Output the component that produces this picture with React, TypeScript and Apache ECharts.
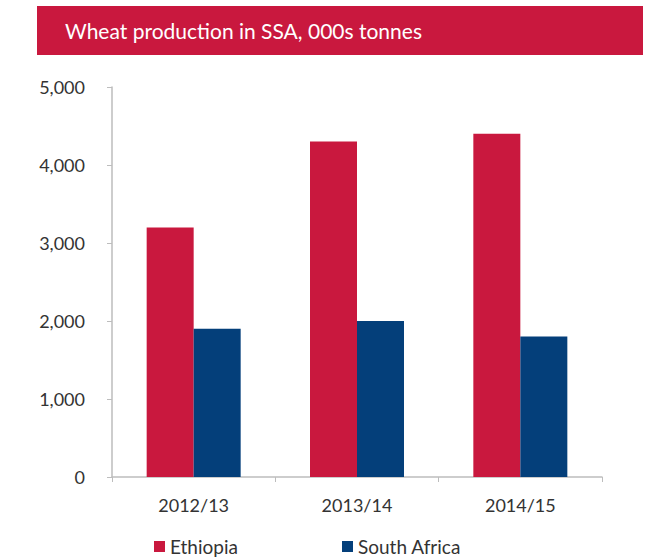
import React, { useEffect, useRef } from "react";
import * as echarts from "echarts";

const title = "Wheat production in SSA, 000s tonnes";
const categories = ["2012/13", "2013/14", "2014/15"];
const ethiopia = [3200, 4300, 4400];
const southAfrica = [1900, 2000, 1800];
const seriesNames = ["Ethiopia", "South Africa"];

const RED = "#C9183E";
const BLUE = "#043F7A";
const FONT = "Lato";

export default function App() {
  const ref = useRef<HTMLDivElement>(null);
  useEffect(() => {
    if (!ref.current) return;
    const chart = echarts.init(ref.current, null, { renderer: "svg" });
    const legendCommon = {
      top: 532,
      itemWidth: 11,
      itemHeight: 11,
      icon: "rect",
      textStyle: { fontSize: 19, color: "#333", fontFamily: FONT },
    };
    chart.setOption({
      animation: false,
      textStyle: { fontFamily: FONT },
      graphic: [
        {
          type: "rect",
          shape: { x: 37, y: 6, width: 606, height: 49 },
          style: { fill: RED },
        },
        {
          type: "text",
          x: 65,
          y: 30,
          style: {
            text: title,
            fill: "#ffffff",
            font: `21px ${FONT}`,
            textVerticalAlign: "middle",
          },
        },
      ],
      legend: [
        { ...legendCommon, left: 149, data: [seriesNames[0]] },
        { ...legendCommon, left: 337, data: [seriesNames[1]] },
      ],
      grid: { left: 112, right: 51, top: 87, bottom: 82 },
      xAxis: {
        type: "category",
        data: categories,
        axisLine: { lineStyle: { color: "#BDBDBD", width: 1.5 } },
        axisTick: { show: true, length: 5, lineStyle: { color: "#BDBDBD" } },
        axisLabel: { fontSize: 18, color: "#333", margin: 19, fontFamily: FONT },
      },
      yAxis: {
        type: "value",
        min: 0,
        max: 5000,
        interval: 1000,
        axisLine: { show: true, lineStyle: { color: "#BDBDBD", width: 1.5 } },
        axisTick: { show: true, length: 5, lineStyle: { color: "#BDBDBD" } },
        splitLine: { show: false },
        axisLabel: {
          fontSize: 18,
          color: "#333",
          margin: 27,
          fontFamily: FONT,
          formatter: (v: number) => v.toLocaleString("en-US"),
        },
      },
      series: [
        {
          name: seriesNames[0],
          type: "bar",
          data: ethiopia,
          barWidth: 47,
          barGap: "0%",
          itemStyle: { color: RED },
        },
        {
          name: seriesNames[1],
          type: "bar",
          data: southAfrica,
          barWidth: 47,
          barGap: "0%",
          itemStyle: { color: BLUE },
        },
      ],
    });
    return () => chart.dispose();
  }, []);
  return <div ref={ref} style={{ width: 653, height: 559, position: "absolute", left: 0, top: 0 }} />;
}
